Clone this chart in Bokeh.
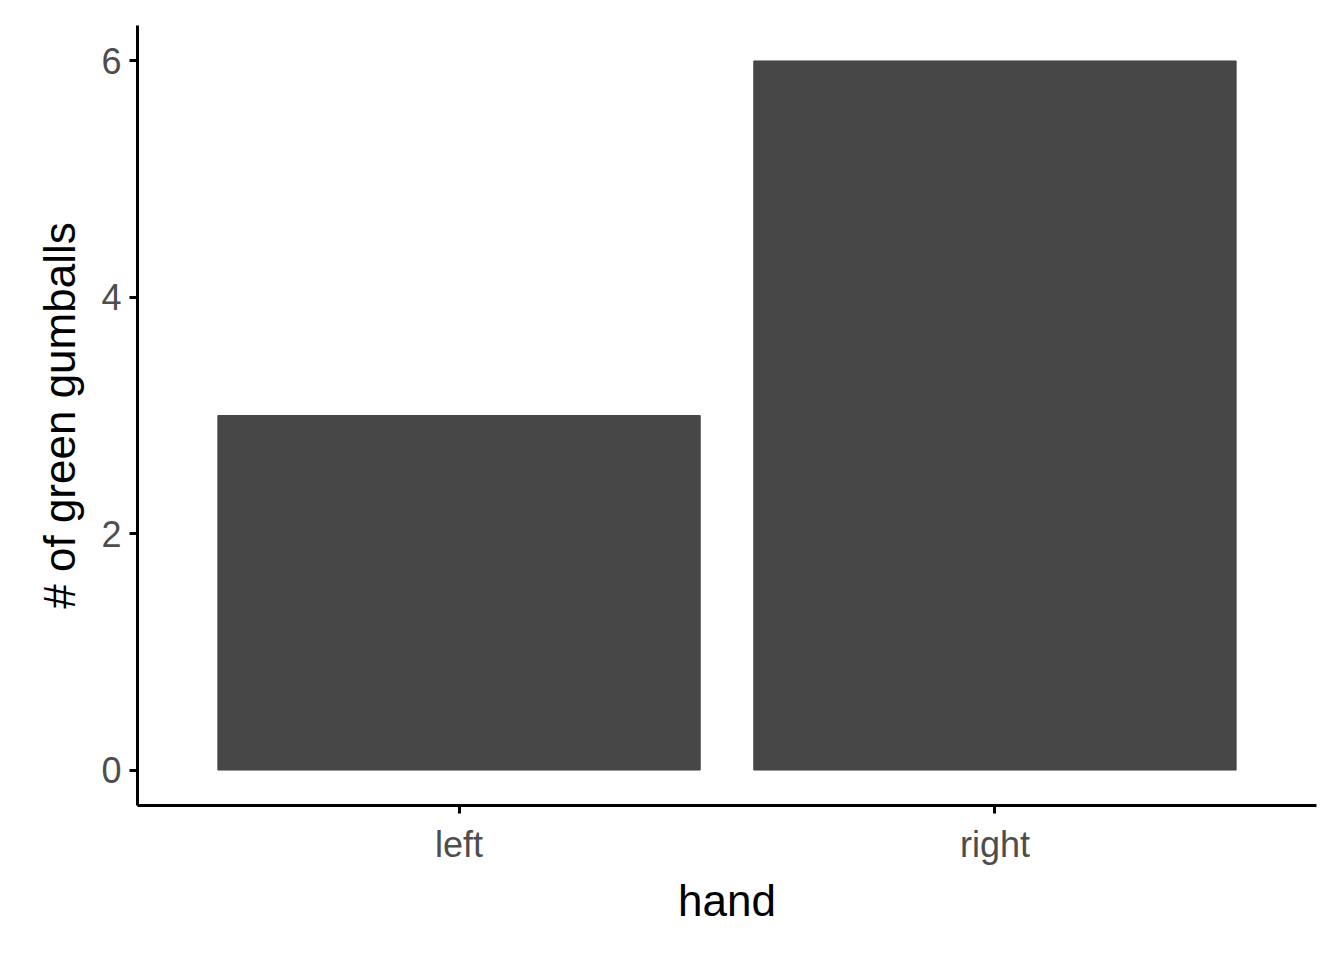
from bokeh.plotting import figure
from bokeh.models import FactorRange, Range1d, FixedTicker
from bokeh.embed import file_html
from bokeh.resources import INLINE

hands = ["left", "right"]
counts = [3, 6]
yticks = [0, 2, 4, 6]

p = figure(x_range=FactorRange(factors=hands, range_padding=0.1, range_padding_units="absolute"),
           y_range=Range1d(-0.3, 6.3), width=1336, height=944,
           output_backend="svg", toolbar_location=None,
           min_border_left=137, min_border_right=20, min_border_top=25, min_border_bottom=139)
p.vbar(x=hands, top=counts, width=0.9, color="#474747")
p.outline_line_color = None
p.xgrid.visible = False
p.ygrid.visible = False
p.yaxis.ticker = FixedTicker(ticks=yticks)
for ax in (p.xaxis, p.yaxis):
    ax.axis_line_width = 3
    ax.axis_line_color = "black"
    ax.major_tick_line_width = 3
    ax.major_tick_line_color = "black"
    ax.major_tick_out = 8
    ax.major_tick_in = 0
    ax.minor_tick_line_color = None
    ax.major_label_text_font = "Liberation Sans"
    ax.major_label_text_font_size = "36px"
    ax.major_label_text_color = "#4D4D4D"
    ax.axis_label_text_font = "Liberation Sans"
    ax.axis_label_text_font_size = "44px"
    ax.axis_label_text_font_style = "normal"
    ax.axis_label_text_color = "black"
p.xaxis.axis_label = "hand"
p.yaxis.axis_label = "# of green gumballs"
p.xaxis.major_label_standoff = 10
p.yaxis.major_label_standoff = 8
p.xaxis.axis_label_standoff = 8
p.yaxis.axis_label_standoff = 14

open("out.html", "w").write(file_html(p, INLINE))
